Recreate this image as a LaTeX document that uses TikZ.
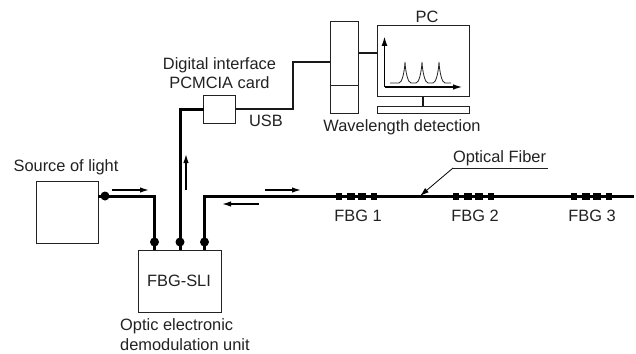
\documentclass[tikz,border=0pt]{standalone}
\usepackage{fontspec}
\setmainfont{Liberation Sans}
\usetikzlibrary{arrows.meta,calc}
\definecolor{ink}{HTML}{222222}
\tikzset{
  x=1pt,y=-1pt,
  boxed/.style={draw=ink,line width=0.9pt,inner sep=0pt,fill=white},
  label/.style={font=\fontsize{16.4}{19.5}\selectfont,text=ink,inner sep=0pt,align=center},
  fiber/.style={line width=3pt,black,line join=miter},
  wire/.style={line width=1.8pt,black!90,line join=miter},
  dot/.style={circle,fill=black,inner sep=0pt,minimum size=9pt},
  flow/.style={line width=1.4pt,black,-{Latex[length=9pt,width=5.5pt]}},
  grating/.style={fill=black,inner sep=0pt,minimum width=6.4pt,minimum height=7pt}
}
\newcommand{\sizedbox}[6]{\node[boxed,minimum width=#4 pt,minimum height=#5 pt,#6] (#1) at (#2,#3) {};}
\newcommand{\gratingset}[2]{%
  \node[grating] (#1a) at (#2+3.2,196) {};
  \node[grating,minimum width=8pt] (#1b) at (#2+15,196) {};
  \node[grating,minimum width=8pt] (#1c) at (#2+26,196) {};
  \node[grating] (#1d) at (#2+38,196) {};}
\begin{document}
\begin{tikzpicture}
\useasboundingbox (0,0) rectangle (636,353);
\fill[white] (0,0) rectangle (636,353);
% boxes
\sizedbox{src}{67}{212}{62}{62}{}
\sizedbox{sli}{179.5}{281}{83}{62}{}
\sizedbox{card}{219.5}{109.5}{31.5}{28}{}
\sizedbox{wave}{344.2}{67}{28.5}{92}{}
\sizedbox{monitor}{423.2}{61.2}{92}{70.5}{}
\sizedbox{keys}{423.2}{109.5}{92}{7}{}
% coordinates
\coordinate (srcout) at (98,196);
\coordinate (srcbend) at (154.5,196);
\coordinate (sliA) at (154.5,250);
\coordinate (sliB) at (180,250);
\coordinate (sliC) at (204.5,250);
\coordinate (cardbend) at (180,109);
\coordinate (cardin) at (204,109);
\coordinate (cardout) at (235.3,109);
\coordinate (usbA) at (293,109);
\coordinate (usbB) at (293,62);
\coordinate (waveIn) at (330,62);
\coordinate (waveOut) at (358.5,53);
\coordinate (monIn) at (377.2,53);
\coordinate (fibTop) at (204.5,196);
\coordinate (fibEnd) at (634,196);
\coordinate (standT) at (423.2,96.5);
\coordinate (standB) at (423.2,106);
\coordinate (dividerL) at (330,85);
\coordinate (dividerR) at (358.5,85);
% connectors
\draw[fiber] (srcout) -- (srcbend) -- (sliA);
\draw[fiber] (sliB) -- (cardbend) -- (cardin);
\draw[fiber] (sliC) -- (fibTop) -- (fibEnd);
\draw[wire] (cardout) -- (usbA) -- (usbB) -- (waveIn);
\draw[wire] (waveOut) -- (monIn);
\draw[wire] (standT) -- (standB);
\draw[line width=0.9pt,ink] (dividerL) -- (dividerR);
% connector dots
\node[dot] (d0) at (105,196) {};
\node[dot] (d1) at (154.5,242) {};
\node[dot] (d2) at (180,242) {};
\node[dot] (d3) at (204.5,242) {};
% flow arrows
\coordinate (fa1) at (112,190); \coordinate (fb1) at (149,190);
\coordinate (fa2) at (186,190); \coordinate (fb2) at (186,154);
\coordinate (fa3) at (259,204); \coordinate (fb3) at (222,204);
\coordinate (fa4) at (265,190); \coordinate (fb4) at (301,190);
\draw[flow] (fa1) -- (fb1);
\draw[flow] (fa2) -- (fb2);
\draw[flow] (fa3) -- (fb3);
\draw[flow] (fa4) -- (fb4);
% gratings
\gratingset{ga}{336}
\gratingset{gb}{453}
\gratingset{gc}{571}
% pointer
\coordinate (pE) at (548,168);
\coordinate (pK) at (453,168);
\coordinate (pT) at (420,196);
\draw[line width=0.8pt,ink] (pE) -- (pK);
\draw[line width=0.8pt,black,-{Latex[length=9pt,width=5.5pt]}] (pK) -- (pT);
% plot
\coordinate (ox) at (384.5,87);
\coordinate (oy) at (384.5,36);
\coordinate (ax) at (463,87);
\draw[line width=1.8pt,black,-{Latex[length=10pt,width=6pt]}] (ox) -- (oy);
\draw[line width=1.8pt,black,-{Latex[length=10pt,width=5.5pt]}] (ox) -- (ax);
\draw[line width=0.8pt,ink] (390,83) -- (399,83)
  .. controls (402,83) and (404.5,72) .. (405,62)
  .. controls (405.5,72) and (408,83) .. (411,83) -- (416,83)
  .. controls (419,83) and (421.5,72) .. (422,62)
  .. controls (422.5,72) and (425,83) .. (428,83) -- (433,83)
  .. controls (436,83) and (438.5,72) .. (439,62)
  .. controls (439.5,72) and (442,83) .. (445,83) -- (451,83);
% labels
\node[label] (tsrc) at (66,167) {Source of light};
\node[label] (tsli) at (179,281) {FBG-SLI};
\node[label,align=left,anchor=west] (tunit) at (120,334.5) {Optic electronic\\demodulation unit};
\node[label] (tcard) at (219.5,73) {Digital interface\\PCMCIA card};
\node[label] (tusb) at (266,120.5) {USB};
\node[label] (twave) at (402,127) {Wavelength detection};
\node[label] (tpc) at (427,16.5) {PC};
\node[label] (topt) at (499.5,158) {Optical Fiber};
\node[label] (tf1) at (358,216) {FBG 1};
\node[label] (tf2) at (475,216) {FBG 2};
\node[label] (tf3) at (592,216) {FBG 3};
\end{tikzpicture}
\end{document}
